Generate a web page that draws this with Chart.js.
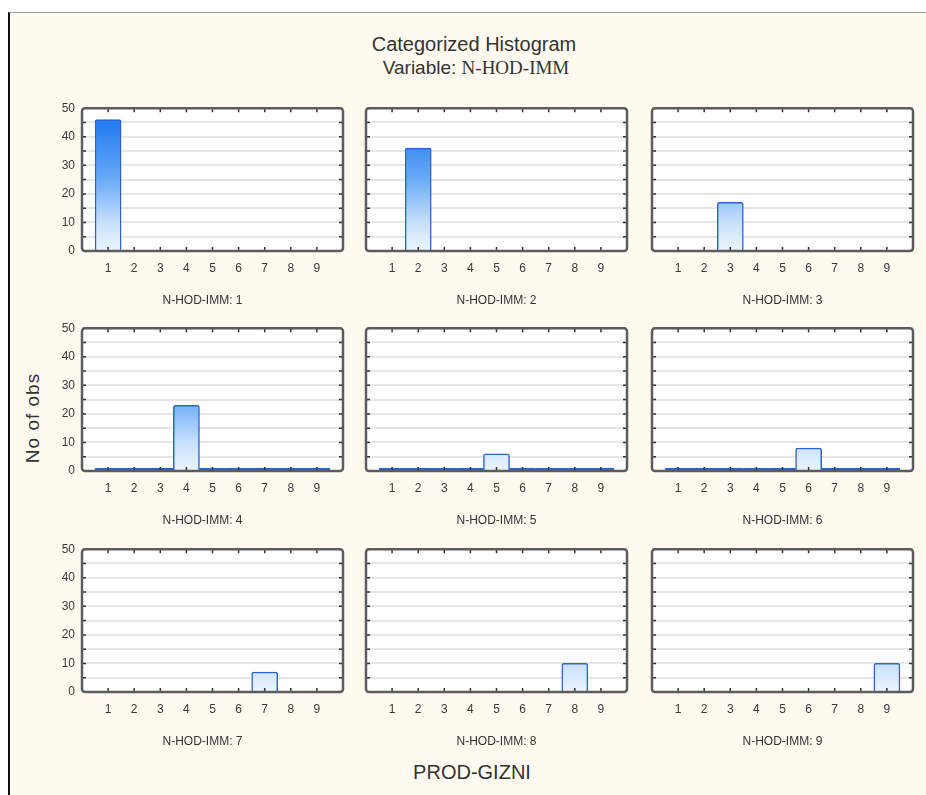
<!DOCTYPE html>
<html>
<head>
<meta charset="utf-8">
<script src="https://cdn.jsdelivr.net/npm/chart.js@4.4.1/dist/chart.umd.min.js"></script>
<style>
  body { margin: 0; background: #fff; width: 926px; height: 795px; overflow: hidden; font-family: "Liberation Sans", Arial, sans-serif; }
  #sheet { position: absolute; left: 8px; top: 12px; width: 918px; height: 783px; background: #fefaf0; border-left: 2px solid #111; border-top: 1px solid #9a9a9a; box-sizing: border-box; }
  .txt { position: absolute; color: #333; white-space: nowrap; transform: translate(-50%, -50%); }
  canvas { position: absolute; }
</style>
</head>
<body>
<div id="sheet"></div>
<div class="txt" style="left:474px;top:44px;font-size:20px;">Categorized Histogram</div>
<div class="txt" style="left:476px;top:68px;font-size:19px;">Variable: <span style="font-family:'Liberation Serif',serif;">N-HOD-IMM</span></div>
<div class="txt" style="left:33px;top:418px;font-size:19px;letter-spacing:1px;transform:translate(-50%,-50%) rotate(-90deg);">No of obs</div>
<div class="txt" style="left:472px;top:772px;font-size:20px;">PROD-GIZNI</div>

<script>
// data
const categories = ['1', '2', '3', '4', '5', '6', '7', '8', '9'];
const panelTitles = ['N-HOD-IMM: 1', 'N-HOD-IMM: 2', 'N-HOD-IMM: 3', 'N-HOD-IMM: 4', 'N-HOD-IMM: 5',
                     'N-HOD-IMM: 6', 'N-HOD-IMM: 7', 'N-HOD-IMM: 8', 'N-HOD-IMM: 9'];
const counts1 = [46, 0, 0, 0, 0, 0, 0, 0, 0];
const counts2 = [0, 36, 0, 0, 0, 0, 0, 0, 0];
const counts3 = [0, 0, 17, 0, 0, 0, 0, 0, 0];
const counts4 = [0, 0, 0, 23, 0, 0, 0, 0, 0];
const counts5 = [0, 0, 0, 0, 6, 0, 0, 0, 0];
const counts6 = [0, 0, 0, 0, 0, 8, 0, 0, 0];
const counts7 = [0, 0, 0, 0, 0, 0, 7, 0, 0];
const counts8 = [0, 0, 0, 0, 0, 0, 0, 10, 0];
const counts9 = [0, 0, 0, 0, 0, 0, 0, 0, 10];
const yTickLabels = [0, 10, 20, 30, 40, 50];

const panels = [counts1, counts2, counts3, counts4, counts5, counts6, counts7, counts8, counts9];

// layout of the 3x3 grid (plot area corners)
const colLeft = [82, 366, 652];
const rowTop = [104, 324, 545];
const plotW = 265, plotH = 147;
const axisW = 40, padTop = 10, padRight = 6, xAxisH = 60;

function barFill(ctx) {
    // empty bins are drawn as a dark line on the base
    if (ctx.raw && ctx.raw.y === 0) return '#2f62cc';
    const a = ctx.chart.chartArea;
    if (!a) return '#8fc0fa';
    const g = ctx.chart.ctx.createLinearGradient(0, a.top, 0, a.bottom);
    g.addColorStop(0, '#1170f0');
    g.addColorStop(0.5, '#6aaaf6');
    g.addColorStop(0.8, '#c8e0fb');
    g.addColorStop(1, '#edf5fe');
    return g;
}

const framePlugin = {
    id: 'frame',
    beforeDraw(chart) {
        const a = chart.chartArea;
        const c = chart.ctx;
        c.save();
        c.fillStyle = '#fff';
        c.fillRect(a.left, a.top, a.right - a.left, a.bottom - a.top);
        c.restore();
    },
    afterDraw(chart, args, opts) {
        const a = chart.chartArea;
        const c = chart.ctx;
        const xs = chart.scales.x, ys = chart.scales.y;
        c.save();
        c.strokeStyle = '#333';
        c.lineWidth = 1.5;
        c.beginPath();
        categories.forEach((_, i) => {
            const px = xs.getPixelForValue(i + 1);
            c.moveTo(px, a.top); c.lineTo(px, a.top + 4);
            c.moveTo(px, a.bottom); c.lineTo(px, a.bottom - 4);
        });
        for (let v = 5; v < 50; v += 5) {
            const py = ys.getPixelForValue(v);
            c.moveTo(a.left, py); c.lineTo(a.left + 4, py);
            c.moveTo(a.right, py); c.lineTo(a.right - 4, py);
        }
        c.stroke();
        c.strokeStyle = '#5c5c5c';
        c.lineWidth = 2.5;
        c.beginPath();
        c.roundRect(a.left, a.top, a.right - a.left, a.bottom - a.top, 3);
        c.stroke();
        // panel caption under the axis
        c.fillStyle = '#333';
        c.font = '12px "Liberation Sans", Arial, sans-serif';
        c.textAlign = 'center';
        c.textBaseline = 'middle';
        c.fillText(opts.title, (a.left + a.right) / 2 + opts.dx, a.bottom + 50);
        c.restore();
    }
};

panels.forEach((counts, k) => {
    const row = Math.floor(k / 3), col = k % 3;
    const cv = document.createElement('canvas');
    cv.width = axisW + plotW + padRight;
    cv.height = padTop + plotH + xAxisH;
    cv.style.left = (colLeft[col] - axisW) + 'px';
    cv.style.top = (rowTop[row] - padTop) + 'px';
    document.body.appendChild(cv);

    new Chart(cv, {
        type: 'bar',
        data: {
            datasets: [{
                data: counts.map((v, i) => ({ x: i + 1, y: v })),
                backgroundColor: barFill,
                borderColor: '#2a64d2',
                borderWidth: 1.5,
                borderRadius: 2,
                borderSkipped: 'start',
                barPercentage: 1,
                categoryPercentage: 1,
                minBarLength: row === 1 ? 3 : 0,
            }],
        },
        options: {
            responsive: false,
            animation: false,
            devicePixelRatio: 1,
            layout: { padding: { top: padTop, right: padRight, left: 0, bottom: 0 } },
            plugins: {
                legend: { display: false },
                tooltip: { enabled: false },
                frame: { title: panelTitles[k], dx: col === 0 ? -10 : 0 },
            },
            scales: {
                x: {
                    type: 'linear',
                    offset: false,
                    min: 0,
                    max: 10,
                    afterFit: s => { s.height = xAxisH; },
                    grid: { display: false, drawTicks: false },
                    border: { display: false },
                    ticks: {
                        stepSize: 1,
                        autoSkip: false,
                        maxRotation: 0,
                        padding: 10,
                        color: '#3a3a3a',
                        font: { family: '"Liberation Sans", Arial, sans-serif', size: 12 },
                        callback: v => (v >= 1 && v <= 9) ? categories[v - 1] : '',
                    },
                },
                y: {
                    min: 0,
                    max: 50,
                    afterFit: s => { s.width = axisW; },
                    grid: { color: '#e6e6e6', lineWidth: 2, drawTicks: false },
                    border: { display: false },
                    ticks: {
                        stepSize: 5,
                        autoSkip: false,
                        padding: 7,
                        color: col === 0 ? '#3a3a3a' : 'rgba(0,0,0,0)',
                        font: { family: '"Liberation Sans", Arial, sans-serif', size: 12 },
                        callback: v => yTickLabels.includes(v) ? String(v) : '',
                    },
                },
            },
        },
        plugins: [framePlugin],
    });
});
</script>
</body>
</html>
